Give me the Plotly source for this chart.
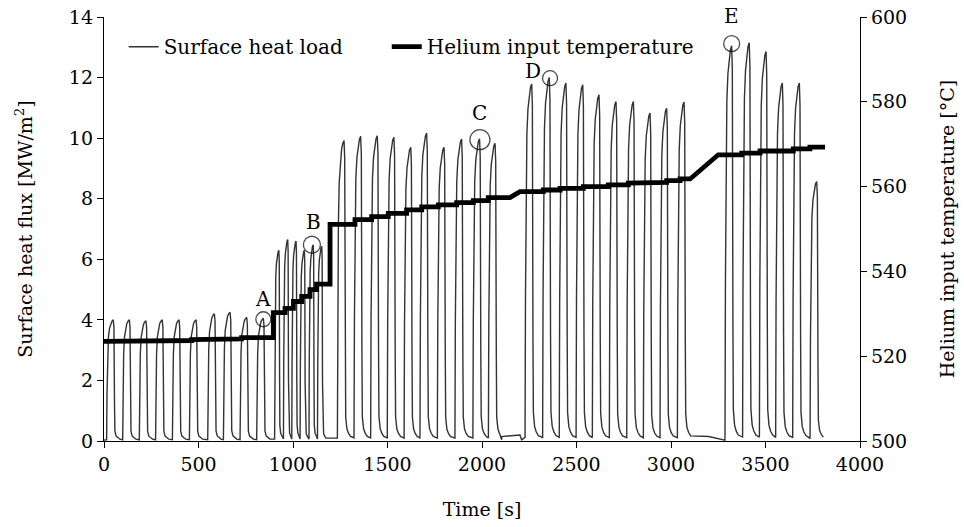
import plotly.graph_objects as go

# ---------------- data ----------------
# Surface heat load pulses: time of peak [s], peak value [MW/m2], pulse duration [s]
pulse_peak_time = [49, 134, 222, 308, 397, 487, 584, 667, 755, 843,
                   925, 972, 1016, 1060, 1107, 1152,
                   1270, 1358, 1446, 1534, 1623, 1707, 1799, 1892, 1987, 2069,
                   2263, 2356, 2444, 2533, 2619, 2709, 2801, 2889, 2977, 3069,
                   3321, 3414, 3503, 3589, 3679, 3771]
pulse_peak_value = [4.0, 4.0, 3.97, 4.0, 4.0, 4.0, 4.2, 4.25, 4.08, 4.05,
                    6.3, 6.65, 6.6, 6.3, 6.48, 6.43,
                    9.92, 10.06, 10.08, 10.03, 9.7, 10.17, 9.7, 9.97, 9.98, 9.83,
                    11.79, 12.0, 11.82, 11.76, 11.43, 11.21, 11.21, 10.83, 10.99, 11.19,
                    13.05, 13.15, 12.86, 11.82, 11.82, 8.57]
pulse_duration = [44] * 10 + [28] * 6 + [44] * 10 + [44] * 10 + [44] * 6

# shape of one pulse (fraction of duration, fraction of peak)
shape_time_frac = [0.0, 0.05, 0.12, 0.22, 0.35, 0.5, 0.65, 0.8, 0.88, 0.95, 1.0, 1.15, 1.35, 1.6]
shape_value_frac = [0.01, 0.4, 0.72, 0.86, 0.93, 0.97, 0.99, 1.0, 0.94, 0.3, 0.08, 0.04, 0.025, 0.015]
peak_frac = 0.8

# idle stretches between pulse groups
idle_time = [0, 2104, 2201, 2210, 3200, 3285]
idle_value = [0.03, 0.04, 0.2, 0.04, 0.15, 0.03]
series_end = 3810

# Helium input temperature (vertices of the step curve)
he_time = [0, 102, 102, 199, 199, 376, 376, 464, 464, 649, 649, 728, 728, 896,
           896, 958, 958, 1002, 1002, 1046, 1046, 1090, 1090, 1125, 1125, 1196,
           1196, 1328, 1328, 1416, 1416, 1504, 1504, 1601, 1601, 1681, 1681, 1769,
           1769, 1866, 1866, 1954, 1954, 2033, 2033, 2148, 2201, 2324, 2324, 2413,
           2413, 2536, 2536, 2668, 2668, 2774, 2774, 2871, 2871, 2977, 2977, 3048,
           3048, 3101, 3250, 3374, 3374, 3471, 3471, 3647, 3647, 3735, 3735, 3815]
he_temp = [523.5, 523.5, 523.7, 523.7, 523.5, 523.5, 523.7, 523.7, 523.9, 523.9, 524.1, 524.1, 524.4, 524.4,
           530.3, 530.3, 531.3, 531.3, 532.9, 532.9, 534.1, 534.1, 535.7, 535.7, 537.0, 537.0,
           551.1, 551.1, 552.2, 552.2, 552.9, 552.9, 553.7, 553.7, 554.5, 554.5, 555.2, 555.2,
           555.7, 555.7, 556.2, 556.2, 556.7, 556.7, 557.4, 557.4, 558.8, 558.8, 559.2, 559.2,
           559.6, 559.6, 560.0, 560.0, 560.4, 560.4, 560.8, 560.8, 561.0, 561.0, 561.4, 561.4,
           561.8, 561.8, 567.5, 567.5, 567.9, 567.9, 568.4, 568.4, 568.9, 568.9, 569.3, 569.3]

# marked points
mark_label = ["A", "B", "C", "D", "E"]
mark_time = [843, 1100, 1989, 2360, 3321]
mark_value = [4.02, 6.48, 9.95, 11.98, 13.12]

# ---------------- build the heat-load trace ----------------
pts = list(zip(idle_time, idle_value))
n = len(pulse_peak_time)
for i in range(n):
    d = pulse_duration[i]
    t0 = pulse_peak_time[i] - peak_frac * d
    if i + 1 < n:
        nxt = pulse_peak_time[i + 1] - peak_frac * pulse_duration[i + 1]
    else:
        nxt = series_end
    for f, s in zip(shape_time_frac, shape_value_frac):
        t = t0 + f * d
        if t < nxt:
            pts.append((t, s * pulse_peak_value[i]))
pts.sort(key=lambda p: p[0])
heat_t = [p[0] for p in pts]
heat_v = [p[1] for p in pts]

FONT = "DejaVu Serif"
fig = go.Figure()
fig.add_trace(go.Scatter(x=heat_t, y=heat_v, mode="lines", name="Surface heat load",
                         legend="legend", line=dict(color="#333333", width=1.4)))
fig.add_trace(go.Scatter(x=he_time, y=he_temp, mode="lines", name="Helium input temperature",
                         legend="legend2", yaxis="y2", line=dict(color="black", width=4.8)))
fig.add_trace(go.Scatter(x=mark_time, y=mark_value, mode="markers", showlegend=False,
                         marker=dict(symbol="circle-open", size=[15, 17, 20, 15, 16],
                                     color="black", line=dict(width=1.3))))

shifts = [(0, 20), (2, 23), (0, 27), (-17, 7), (0, 28)]
for lab, t, v, (dx, dy) in zip(mark_label, mark_time, mark_value, shifts):
    fig.add_annotation(x=t, y=v, xref="x", yref="y", text=lab, showarrow=False,
                       xshift=dx, yshift=dy, font=dict(family=FONT, size=20, color="black"))

axis_common = dict(showline=True, linecolor="black", linewidth=1.3, ticks="outside",
                   ticklen=6, tickwidth=1.3, tickcolor="black", showgrid=False,
                   zeroline=False, automargin=False,
                   tickfont=dict(family=FONT, size=19, color="black"))

legend_common = dict(orientation="h", yanchor="middle", xanchor="left",
                     bgcolor="rgba(0,0,0,0)", borderwidth=0,
                     font=dict(family=FONT, size=20, color="black"))

fig.update_layout(
    width=964, height=527,
    margin=dict(l=104, r=104, t=17, b=86),
    paper_bgcolor="white", plot_bgcolor="white",
    font=dict(family=FONT, size=19, color="black"),
    xaxis=dict(range=[0, 4000], tickvals=[0, 500, 1000, 1500, 2000, 2500, 3000, 3500, 4000],
               title=dict(text="Time [s]", standoff=28, font=dict(family=FONT, size=19)),
               **axis_common),
    yaxis=dict(range=[0, 14], tickvals=[0, 2, 4, 6, 8, 10, 12, 14],
               title=dict(text="Surface heat flux [MW/m<sup>2</sup>]", standoff=31,
                          font=dict(family=FONT, size=19)),
               **axis_common),
    yaxis2=dict(range=[500, 600], tickvals=[500, 520, 540, 560, 580, 600], overlaying="y",
                side="right", anchor="x",
                title=dict(text="Helium input temperature [°C]", standoff=34,
                           font=dict(family=FONT, size=19)),
                **axis_common),
    legend=dict(x=0.026, y=0.93, **legend_common),
    legend2=dict(x=0.374, y=0.93, **legend_common),
    showlegend=True,
)

fig.write_html("out.html")
